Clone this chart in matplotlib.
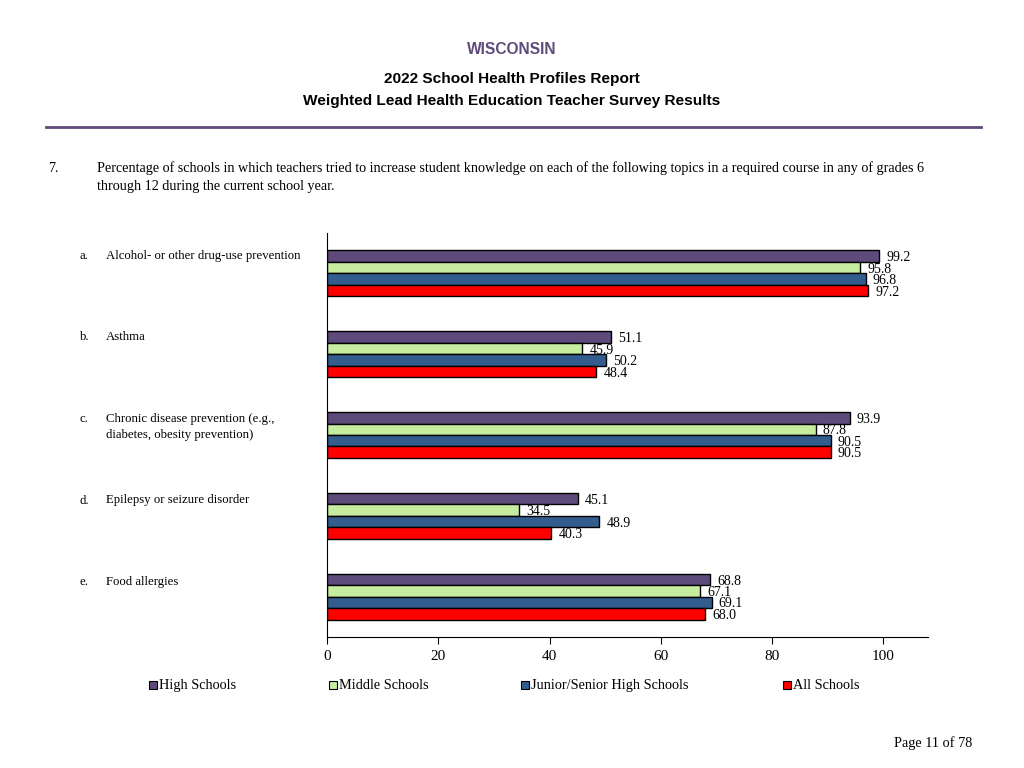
import matplotlib
matplotlib.use("Agg")
import matplotlib.pyplot as plt
import numpy as np

# data
letters = ['a.', 'b.', 'c.', 'd.', 'e.']
topics = ['Alcohol- or other drug-use prevention',
          'Asthma',
          'Chronic disease prevention (e.g.,\ndiabetes, obesity prevention)',
          'Epilepsy or seizure disorder',
          'Food allergies']
series = ['High Schools', 'Middle Schools', 'Junior/Senior High Schools', 'All Schools']
high = [99.2, 51.1, 93.9, 45.1, 68.8]
middle = [95.8, 45.9, 87.8, 34.5, 67.1]
junior = [96.8, 50.2, 90.5, 48.9, 69.1]
allsch = [97.2, 48.4, 90.5, 40.3, 68.0]
colors = ['#5f4b7b', '#c6eca0', '#335d8f', '#ff0000']

serif = 'Liberation Serif'
sans = 'Liberation Sans'

fig = plt.figure(figsize=(10.24, 7.68), dpi=100)

# header
fig.text(0.5, 1 - 50 / 768, 'WISCONSIN', ha='center', va='center',
         family=sans, weight='bold', fontsize=11.2, color='#5f4b7b')
fig.text(0.5, 1 - 79 / 768, '2022 School Health Profiles Report', ha='center', va='center',
         family=sans, weight='bold', fontsize=11.1)
fig.text(0.5, 1 - 101 / 768, 'Weighted Lead Health Education Teacher Survey Results', ha='center',
         va='center', family=sans, weight='bold', fontsize=11.1)
fig.add_artist(plt.Line2D([46 / 1024, 981 / 1024], [1 - 127 / 768] * 2, color='#5f4b7b', lw=2))

# question
fig.text(48 / 1024, 1 - 172 / 768, '7.', va='baseline', family=serif, fontsize=10.2)
fig.text(97 / 1024, 1 - 172 / 768,
         'Percentage of schools in which teachers tried to increase student knowledge on each of the '
         'following topics in a required course in any of grades 6', va='baseline', family=serif, fontsize=10.2)
fig.text(97 / 1024, 1 - 190 / 768, 'through 12 during the current school year.', va='baseline',
         family=serif, fontsize=10.2)

ax = fig.add_axes([327 / 1024, 1 - 637 / 768, 601 / 1024, 404 / 768])

y = np.arange(len(topics))
h = 0.142
vals = [high, middle, junior, allsch]
for i, (v, c, name) in enumerate(zip(vals, colors, series)):
    pos = y + (i - 1.5) * h
    ax.barh(pos, v, height=h, color=c, edgecolor='black', linewidth=1, label=name)
    for p, val in zip(pos, v):
        ax.text(val + 1.3, p + 0.02, '%.1f' % val, va='center', ha='left',
                family=serif, fontsize=10)

ax.set_xlim(0, 108)
ax.set_ylim(4.5, -0.5)
ax.set_yticks([])
ax.set_xticks([0, 20, 40, 60, 80, 100])
ax.tick_params(axis='x', direction='out', length=5, labelsize=11, pad=4)
for lab in ax.get_xticklabels():
    lab.set_family(serif)
ax.spines['top'].set_visible(False)
ax.spines['right'].set_visible(False)

# category labels to the left
for k in range(len(topics)):
    base = 259 + k * 81.5
    fig.text(80 / 1024, 1 - base / 768, letters[k], va='baseline', family=serif, fontsize=9.2)
    for j, line in enumerate(topics[k].split('\n')):
        fig.text(106 / 1024, 1 - (base + 16 * j) / 768, line, va='baseline',
                 family=serif, fontsize=9.2)

# legend as separate entries
leg_x = [149, 329, 521, 783]
for xx, c, name in zip(leg_x, colors, series):
    fig.patches.append(plt.Rectangle((xx / 1024, 1 - 689 / 768), 8 / 1024, 8 / 768,
                                     facecolor=c, edgecolor='black', lw=0.8,
                                     transform=fig.transFigure, figure=fig))
    fig.text((xx + 10) / 1024, 1 - 689 / 768, name, va='baseline', family=serif, fontsize=10.3)

fig.text(972 / 1024, 1 - 747 / 768, 'Page 11 of 78', ha='right', va='baseline', family=serif, fontsize=10.3)

fig.savefig('out.png', dpi=100)
